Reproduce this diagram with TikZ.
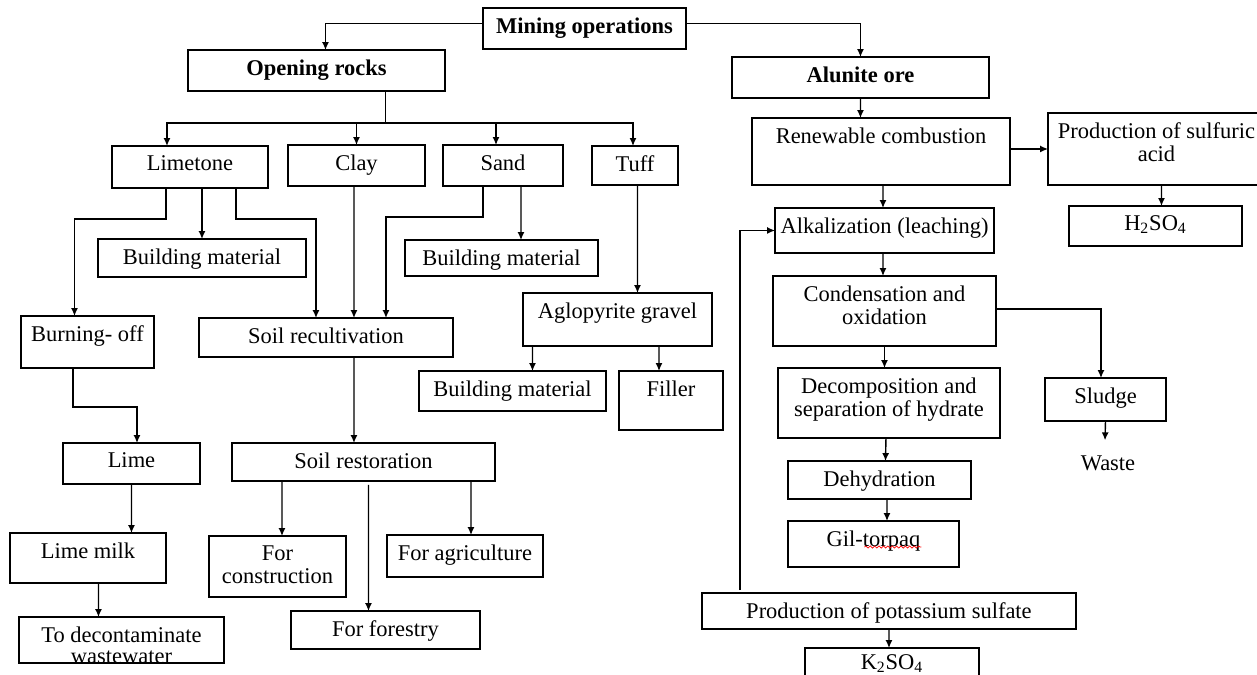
\documentclass[tikz,border=0pt]{standalone}
\usepackage{fontspec}
\setmainfont{Liberation Serif}
\usetikzlibrary{arrows.meta,calc,decorations.pathmorphing}

\begin{document}
\begin{tikzpicture}[x=0.02cm, y=-0.02cm, >={Latex[length=4.5pt,width=4pt]},
  font=\fontsize{12.8pt}{13.1pt}\selectfont,
  box/.style={draw, thick, anchor=north west, inner sep=0pt, outer sep=0pt},
  txt/.style={anchor=north, inner sep=0pt, yshift=-0.19cm, align=center},
  link/.style={->, thick}]

\useasboundingbox (0,0) rectangle (1257,675);
\clip (0,0) rectangle (1257,675);

\node(mining) at (483,8) [box, minimum width=4.06cm, minimum height=0.82cm, label={[txt]north:\textbf{Mining operations}}] {};
\node(open) at (188,50) [box, minimum width=5.14cm, minimum height=0.82cm, label={[txt]north:\textbf{Opening rocks}}] {};
\node(alunite) at (732,57) [box, minimum width=5.14cm, minimum height=0.82cm, label={[txt]north:\textbf{Alunite ore}}] {};

\node(lime) at (112,146) [box, minimum width=3.12cm, minimum height=0.84cm, label={[txt]north:Limetone}] {};
\node(clay) at (288,145) [box, minimum width=2.74cm, minimum height=0.82cm, label={[txt]north:Clay}] {};
\node(sand) at (443,145) [box, minimum width=2.40cm, minimum height=0.82cm, label={[txt]north:Sand}] {};
\node(tuff) at (592,146) [box, minimum width=1.72cm, minimum height=0.78cm, label={[txt]north:Tuff}] {};

\node(bma) at (98,239) [box, minimum width=4.16cm, minimum height=0.76cm, label={[txt]north:Building material}] {};
\node(bmb) at (405,240) [box, minimum width=3.86cm, minimum height=0.72cm, label={[txt]north:Building material}] {};
\node(burn) at (21,316) [box, minimum width=2.66cm, minimum height=1.04cm, label={[txt]north:Burning- off}] {};
\node(recult) at (199,318) [box, minimum width=5.08cm, minimum height=0.78cm, label={[txt]north:Soil recultivation}] {};
\node(aglo) at (523,293) [box, minimum width=3.78cm, minimum height=1.06cm, label={[txt]north:Aglopyrite gravel}] {};
\node(bmc) at (419,371) [box, minimum width=3.74cm, minimum height=0.80cm, label={[txt]north:Building material}] {};
\node(filler) at (619,371) [box, minimum width=2.08cm, minimum height=1.18cm, label={[txt]north:Filler}] {};

\node(limeb) at (63,443) [box, minimum width=2.74cm, minimum height=0.82cm, label={[txt]north:Lime}] {};
\node(restor) at (232,443) [box, minimum width=5.26cm, minimum height=0.76cm, label={[txt]north:Soil restoration}] {};
\node(milk) at (10,533) [box, minimum width=3.12cm, minimum height=1.00cm, label={[txt]north:Lime milk}] {};
\node(constr) at (209,536) [box, minimum width=2.74cm, minimum height=1.22cm, label={[txt]north:For\\construction}] {};
\node(agri) at (387,535) [box, minimum width=3.12cm, minimum height=0.84cm, label={[txt]north:For agriculture}] {};
\node(forest) at (291,611) [box, minimum width=3.78cm, minimum height=0.76cm, label={[txt]north:For forestry}] {};
\node(decon) at (19,617) [box, minimum width=4.10cm, minimum height=0.92cm, label={[txt]north:To decontaminate\\[-1pt]wastewater}] {};

\node(renew) at (752,118) [box, minimum width=5.16cm, minimum height=1.34cm, label={[txt]north:Renewable combustion}] {};
\node(sulf) at (1048,113) [box, minimum width=4.34cm, minimum height=1.44cm, label={[txt]north:Production of sulfuric\\acid}] {};
\node(h2so4) at (1069,206) [box, minimum width=3.46cm, minimum height=0.80cm, label={[txt]north:H\textsubscript{2}SO\textsubscript{4}}] {};
\node(alk) at (775,208) [box, minimum width=4.38cm, minimum height=0.90cm, label={[txt]north:Alkalization (leaching)}] {};
\node(cond) at (773,276) [box, minimum width=4.46cm, minimum height=1.40cm, label={[txt]north:Condensation and\\oxidation}] {};
\node(decomp) at (778,368) [box, minimum width=4.44cm, minimum height=1.40cm, label={[txt]north:Decomposition and\\separation of hydrate}] {};
\node(sludge) at (1045,378) [box, minimum width=2.42cm, minimum height=0.86cm, label={[txt]north:Sludge}] {};
\node(waste) at (1108,463) [] {Waste};
\node(dehyd) at (788,461) [box, minimum width=3.66cm, minimum height=0.76cm, label={[txt]north:Dehydration}] {};
\node(gil) at (788,521) [box, minimum width=3.42cm, minimum height=0.92cm, label={[txt]north:Gil-torpaq}] {};
\node(potas) at (702,593) [box, minimum width=7.48cm, minimum height=0.72cm, label={[txt]north:Production of potassium sulfate}] {};
\node(k2so4) at (805,648) [box, minimum width=3.48cm, minimum height=0.90cm, label={[txt, yshift=0.06cm]north:K\textsubscript{2}SO\textsubscript{4}}] {};

\draw[link] ($(mining.west)+(0,-5)$) -| ($(open.north)+(9,0)$);
\draw[link] ($(mining.east)+(0,-5)$) -| (alunite.north);

\draw[thick] ($(open.south)+(69,0)$) -- ++(0,32) coordinate(bus);
\draw[link] (bus) -| ($(lime.north)+(-23,0)$);
\draw[link] (bus) -| (clay.north);
\draw[link] (bus) -| ($(sand.north)+(-7,0)$);
\draw[link] (bus) -| ($(tuff.north)+(-2,0)$);

\draw[link] ($(lime.south)+(-24,0)$) -- ++(0,31) -| ($(burn.north)+(-13,0)$);
\draw[link] (lime.south -| bma.north) to (bma.north);
\draw[link] ($(lime.south)+(46,0)$) -- ++(0,31) -| ($(recult.north)+(-10,0)$);
\draw[link] ($(clay.south)+(-2.5,0)$) to ($(recult.north)+(28,0)$);
\draw[link] ($(sand.south)+(-20,0)$) -- ++(0,31) -| ($(recult.north)+(60,0)$);
\draw[link] ($(sand.south)+(18,0)$) to ($(bmb.north)+(19.5,0)$);
\draw[link] ($(tuff.south)+(2.5,0)$) to ($(aglo.north)+(20,0)$);
\draw[link] ($(aglo.south)+(-85,0)$) to ($(bmc.north)+(20,0)$);
\draw[link] ($(aglo.south)+(41.5,0)$) to ($(filler.north)+(-12,0)$);

\draw[link] ($(burn.south)+(-14.5,0)$) -- ++(0,39) -| ($(limeb.north)+(5.5,0)$);
\draw[link] (limeb.south) to ($(milk.north)+(43.5,0)$);
\draw[link] ($(milk.south)+(10.5,0)$) to ($(decon.north)+(-23,0)$);
\draw[link] ($(recult.south)+(28,0)$) to ($(restor.north)+(-9.5,0)$);
\draw[link] ($(restor.south)+(-81.5,0)$) to ($(constr.north)+(4.5,0)$);
\draw[link] ($(restor.south)+(5,4)$) to ($(forest.north)+(-17,0)$);
\draw[link] ($(restor.south)+(107.5,0)$) to ($(agri.north)+(6,0)$);

\draw[link] (alunite.south) to ($(renew.north)+(-20.5,0)$);
\draw[link] (sulf.west -| renew.east) to (sulf.west);
\draw[link] ($(renew.south)+(2,0)$) to ($(alk.north)+(-1.5,0)$);
\draw[link] ($(sulf.south)+(5,0)$) to ($(h2so4.north)+(6,0)$);
\draw[link] ($(alk.south)+(-1.5,0)$) to ($(cond.north)+(-1.5,0)$);
\draw[link] ($(cond.east)+(0,-2)$) -| ($(sludge.north)+(-4.5,0)$);
\draw[link] (cond.south) to ($(decomp.north)+(-4.5,0)$);
\draw[link] (sludge.south) to ($(waste.north)+(-3,-9)$);
\draw[link] ($(decomp.south)+(-3,0)$) to ($(dehyd.north)+(6,0)$);
\draw[link] ($(dehyd.south)+(7.5,0)$) to ($(gil.north)+(13.5,0)$);
\draw[link] ($(potas.north)+(-149,-3)$) |- (alk.west);
\draw[link] (potas.south) to ($(k2so4.north)+(-3,0)$);

\draw[red, decorate, decoration={snake, amplitude=0.6pt, segment length=2.5pt}] ($(gil.north)+(-9,26)$) -- ($(gil.north)+(48,26)$);

\end{tikzpicture}
\end{document}
